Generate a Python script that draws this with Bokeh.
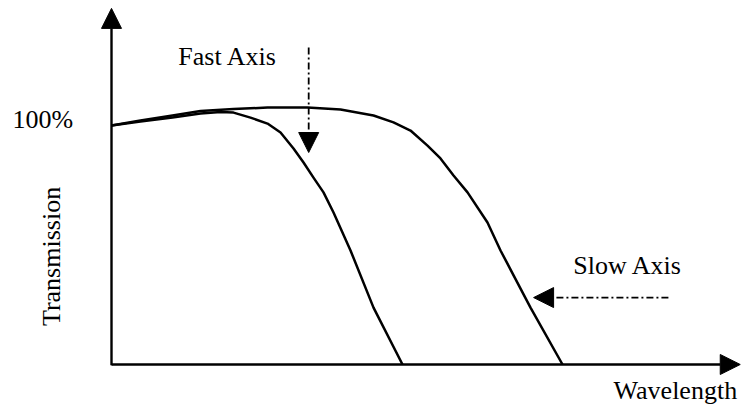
import math
from bokeh.plotting import figure
from bokeh.models import Range1d, Arrow, NormalHead
from bokeh.core.properties import value
from bokeh.embed import file_html
from bokeh.resources import INLINE

# ---- data (arbitrary units: wavelength 0..100, transmission 1.0 = 100%) ----
fast_wavelength = [0, 4.60, 9.68, 14.13, 17.30, 19.37, 22.06, 24.76, 26.83, 28.89,
                   30.48, 32.06, 33.65, 35.24, 37.94, 41.59, 46.19]
fast_transmission = [1.000, 1.017, 1.033, 1.050, 1.056, 1.054, 1.033, 1.008, 0.971, 0.904,
                     0.845, 0.782, 0.720, 0.636, 0.477, 0.238, 0.0]

slow_wavelength = [0, 4.60, 9.68, 14.13, 19.37, 24.76, 31.11, 36.35, 41.59, 44.76,
                   47.46, 50.16, 52.22, 54.29, 56.51, 59.68, 61.75, 66.51, 71.59]
slow_transmission = [1.000, 1.021, 1.042, 1.061, 1.069, 1.075, 1.075, 1.067, 1.042, 1.013,
                     0.979, 0.916, 0.862, 0.791, 0.720, 0.594, 0.477, 0.238, 0.0]

y_tick_label = "100%"
y_tick_value = 1.0
x_title = "Wavelength"
y_title = "Transmission"
fast_label = "Fast Axis"
slow_label = "Slow Axis"

# ---- figure ----
W, H = 741, 409
p = figure(width=W, height=H, output_backend="svg", toolbar_location=None,
           x_axis_type=None, y_axis_type=None, min_border=0,
           x_range=Range1d(-17.62, 100.0), y_range=Range1d(-0.1883, 1.523))
p.grid.visible = False
p.outline_line_color = None
p.background_fill_color = "white"
p.border_fill_color = "white"

# curves
p.line(fast_wavelength, fast_transmission, line_color="black", line_width=2.5, line_join="round")
p.line(slow_wavelength, slow_transmission, line_color="black", line_width=2.5, line_join="round")

# axes with arrowheads
p.add_layout(Arrow(x_start=0, y_start=-0.003, x_end=0, y_end=1.49,
                   line_color="black", line_width=2.4,
                   end=NormalHead(size=20, fill_color="black", line_color="black", line_width=1)))
p.add_layout(Arrow(x_start=0, y_start=0, x_end=99.8, y_end=0,
                   line_color="black", line_width=2.4,
                   end=NormalHead(size=20, fill_color="black", line_color="black", line_width=1)))

# dash-dot pointer arrows
p.add_layout(Arrow(x_start=31.3, y_start=1.326, x_end=31.3, y_end=0.887,
                   line_color="black", line_width=1.8, line_dash="7 3 2 3",
                   end=NormalHead(size=20, fill_color="black", line_color="black", line_width=1)))
p.add_layout(Arrow(x_start=88.4, y_start=0.280, x_end=67.0, y_end=0.280,
                   line_color="black", line_width=1.8, line_dash="7 3 2 3",
                   end=NormalHead(size=20, fill_color="black", line_color="black", line_width=1)))

font = value("Liberation Serif")
fs = value("26px")

p.text(x=[10.6], y=[1.290], text=[fast_label], text_font=font, text_font_size=fs,
       text_color="black", text_align="left", text_baseline="alphabetic")
p.text(x=[73.3], y=[0.413], text=[slow_label], text_font=font, text_font_size=fs,
       text_color="black", text_align="left", text_baseline="alphabetic")
p.text(x=[79.7], y=[-0.110], text=[x_title], text_font=font, text_font_size=fs,
       text_color="black", text_align="left", text_baseline="alphabetic")
p.text(x=[-15.7], y=[y_tick_value + 0.025], text=[y_tick_label], text_font=font, text_font_size=fs,
       text_color="black", text_align="left", text_baseline="alphabetic")
p.text(x=[-9.5], y=[0.452], text=[y_title], text_font=font, text_font_size=fs,
       text_color="black", text_align="center", text_baseline="middle", angle=math.pi / 2)

open("out.html", "w").write(file_html(p, INLINE))
